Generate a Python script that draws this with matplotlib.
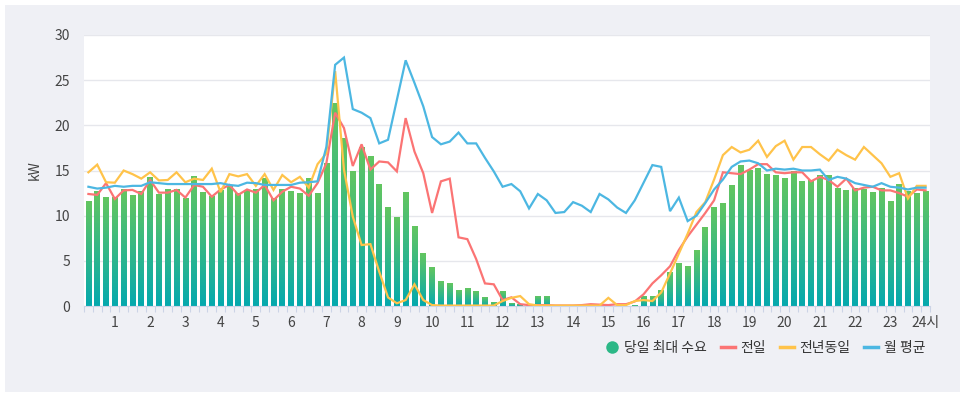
import matplotlib
matplotlib.use("Agg")
import matplotlib.pyplot as plt
import numpy as np
from matplotlib.colors import LinearSegmentedColormap
from matplotlib.lines import Line2D
from matplotlib.patches import Rectangle

plt.rcParams['font.family'] = ['Noto Sans CJK KR', 'DejaVu Sans']

# 15-minute slots, 96 per day
hour_labels = [str(h) for h in range(1, 24)] + ['24시']

# 당일 최대 수요 (bars)
today_max = [
    11.6, 12.7, 12.0, 12.0, 12.9, 12.2, 12.7, 14.2, 12.3, 12.9, 12.9, 11.9,
    14.3, 12.6, 12.1, 12.8, 13.3, 12.4, 12.8, 12.9, 14.1, 11.9, 12.9, 12.7,
    12.5, 14.1, 12.5, 15.8, 22.4, 18.5, 14.9, 17.5, 16.5, 13.5, 10.9, 9.8,
    12.6, 8.8, 5.8, 4.3, 2.7, 2.5, 1.7, 1.9, 1.6, 0.9, 0.4, 1.6,
    0.3, 0.15, 0.0, 1.0, 1.0, 0.0, 0.0, 0.0, 0.0, 0.0, 0.0, 0.0,
    0.0, 0.0, 0.1, 1.1, 1.1, 1.7, 3.7, 4.7, 4.4, 6.1, 8.7, 10.9,
    11.4, 13.3, 15.6, 15.0, 15.2, 14.6, 14.4, 14.1, 14.9, 13.8, 13.9, 14.5,
    14.4, 13.0, 12.8, 13.0, 12.9, 12.6, 13.0, 11.6, 13.5, 12.65, 12.4, 12.65,
]

# 전일
prev_day = [
    12.4, 12.3, 13.6, 11.85, 12.8, 12.85, 12.4, 13.95, 12.55, 12.55, 12.85, 12.0,
    13.4, 13.2, 12.1, 12.9, 13.4, 12.3, 12.9, 12.55, 13.4, 11.7, 12.65, 13.2,
    13.0, 12.2, 13.6, 15.8, 21.4, 19.7, 15.5, 17.9, 15.1, 16.0, 15.9, 14.9,
    20.8, 17.1, 14.7, 10.3, 13.8, 14.1, 7.6, 7.4, 5.2, 2.5, 2.4, 0.66,
    0.96, 0.2, 0.1, 0.1, 0.1, 0.05, 0.05, 0.05, 0.1, 0.2, 0.15, 0.1,
    0.2, 0.2, 0.5, 1.3, 2.5, 3.4, 4.4, 6.2, 7.7, 9.0, 10.3, 11.7,
    14.8, 14.7, 14.6, 15.1, 15.7, 15.7, 14.8, 14.7, 14.8, 14.8, 13.8, 14.3,
    13.95, 13.2, 14.1, 12.8, 13.1, 13.2, 12.8, 12.8, 12.5, 12.1, 12.9, 12.8,
]

# 전년동일
last_year = [
    14.8, 15.65, 13.7, 13.65, 15.0, 14.6, 14.1, 14.8, 13.9, 13.95, 14.8, 13.7,
    14.1, 13.95, 15.2, 12.6, 14.6, 14.35, 14.6, 13.3, 14.6, 12.85, 14.5, 13.7,
    14.3, 13.1, 15.7, 16.9, 26.0, 15.1, 9.9, 6.75, 6.85, 3.8, 0.95, 0.3,
    0.66, 2.4, 0.66, 0.1, 0.05, 0.05, 0.05, 0.05, 0.05, 0.05, 0.05, 0.55,
    0.9, 1.1, 0.2, 0.05, 0.05, 0.05, 0.05, 0.05, 0.05, 0.05, 0.05, 0.9,
    0.1, 0.1, 0.55, 0.66, 0.55, 1.5, 3.6, 5.8, 8.0, 10.4, 11.5, 14.0,
    16.7, 17.6, 17.0, 17.3, 18.3, 16.5, 17.7, 18.3, 16.2, 17.6, 17.6, 16.8,
    16.1, 17.3, 16.7, 16.2, 17.6, 16.7, 15.8, 14.3, 14.7, 11.9, 13.3, 13.3,
]

# 월 평균
month_avg = [
    13.2, 13.0, 13.1, 13.3, 13.2, 13.3, 13.3, 13.7, 13.6, 13.5, 13.5, 13.5,
    13.5, 13.5, 13.5, 13.6, 13.4, 13.3, 13.65, 13.6, 13.4, 13.4, 13.4, 13.4,
    13.65, 13.7, 13.8, 17.6, 26.7, 27.5, 21.8, 21.4, 20.8, 18.0, 18.4, 22.8,
    27.2, 24.7, 22.1, 18.7, 17.9, 18.2, 19.2, 18.0, 18.0, 16.4, 14.9, 13.2,
    13.5, 12.7, 10.8, 12.4, 11.7, 10.3, 10.4, 11.5, 11.1, 10.4, 12.4, 11.8,
    10.9, 10.3, 11.7, 13.65, 15.6, 15.4, 10.5, 12.0, 9.4, 10.0, 11.4, 12.9,
    14.0, 15.4, 16.0, 16.1, 15.8, 15.0, 15.2, 15.1, 15.2, 15.0, 15.0, 15.1,
    13.95, 14.3, 14.1, 13.6, 13.4, 13.2, 13.6, 13.2, 13.1, 12.9, 13.1, 13.1,
]

W, H = 966, 397
fig = plt.figure(figsize=(W / 100, H / 100), dpi=100)
fig.patch.set_facecolor('white')
bg = Rectangle((5 / W, 5 / H), 955 / W, 387 / H, transform=fig.transFigure,
               facecolor='#eff0f5', edgecolor='none', zorder=-10)
fig.add_artist(bg)

ax = fig.add_axes([84 / W, (H - 306) / H, 846 / W, 271 / H])
ax.set_zorder(1)
ax.set_facecolor('white')

x = np.arange(len(today_max))
bar_w = 0.64
grad_cmap = LinearSegmentedColormap.from_list('bar', ['#05a9ae', '#63c660'])
grad = np.linspace(0, 1, 256).reshape(-1, 1)
for xi, h in zip(x, today_max):
    if h <= 0:
        continue
    ax.imshow(grad, extent=(xi - bar_w / 2, xi + bar_w / 2, 0, h), origin='lower',
              cmap=grad_cmap, aspect='auto', zorder=2, interpolation='bilinear')

c_red, c_yel, c_blue = '#fb7474', '#ffc34a', '#4cb7e2'
ax.plot(x, prev_day, color=c_red, lw=1.6, zorder=3, solid_joinstyle='miter')
ax.plot(x, last_year, color=c_yel, lw=1.6, zorder=3, solid_joinstyle='miter')
ax.plot(x, month_avg, color=c_blue, lw=1.6, zorder=4, solid_joinstyle='miter')

ax.set_xlim(-0.5, 95.5)
ax.set_ylim(0, 30)
ax.set_yticks(range(0, 31, 5))
ax.grid(True, axis='y', color='#e6e7ec', lw=1.0, zorder=1)
ax.set_axisbelow(True)

ax.set_xticks(np.arange(3, 96, 4))
ax.set_xticklabels(hour_labels)
ax.set_xticks(np.arange(-0.5, 96, 1), minor=True)
ax.tick_params(axis='x', which='major', length=0, pad=7, labelsize=10, labelcolor='#444444')
ax.tick_params(axis='x', which='minor', length=4, color='#ccd4e6', width=0.8)
ax.tick_params(axis='y', length=0, pad=10, labelsize=10, labelcolor='#444444')

for s in ['top', 'right', 'left']:
    ax.spines[s].set_visible(False)
ax.spines['bottom'].set_color('#ccd4e6')

ax.set_ylabel('kW', fontsize=10, color='#444444')
ax.yaxis.set_label_coords(-0.05, 0.5)

handles = [
    Line2D([], [], marker='o', linestyle='', markersize=9, markerfacecolor='#2cb887', markeredgecolor='none'),
    Line2D([], [], color=c_red, lw=2.5),
    Line2D([], [], color=c_yel, lw=2.5),
    Line2D([], [], color=c_blue, lw=2.5),
]
fig.legend(handles, ['당일 최대 수요', '전일', '전년동일', '월 평균'], loc='center right',
           bbox_to_anchor=(925 / W, (H - 348) / H), ncol=4, frameon=False, fontsize=10,
           handlelength=1.0, handletextpad=0.4, columnspacing=1.0, borderpad=0, borderaxespad=0,
           labelcolor='#333333')

fig.savefig('out.png', dpi=100)
